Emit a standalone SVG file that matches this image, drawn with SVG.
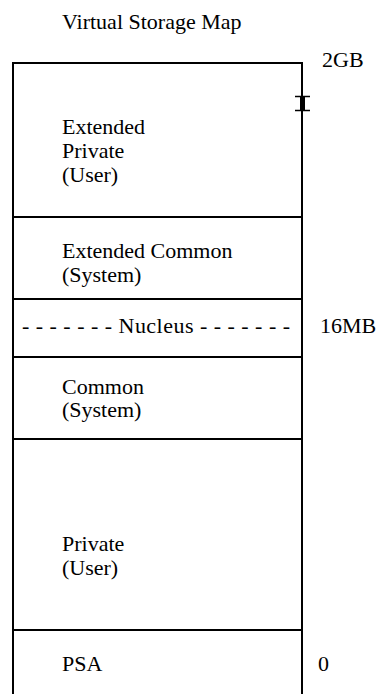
<svg xmlns="http://www.w3.org/2000/svg" width="377" height="694" viewBox="0 0 377 694">
<style>
text{font-size:22px;fill:#000}
.ln{stroke:#000;stroke-width:2;fill:none}
</style>
<rect width="377" height="694" fill="#fff"/>
<g id="title"><text font-family="Liberation Serif" x="62" y="29">Virtual Storage Map</text></g>
<g id="frame">
<path class="ln" d="M13,694 V63 H302 V694"/>
</g>
<g id="connectors">
<line class="ln" x1="13" y1="217" x2="302" y2="217"/>
<line class="ln" x1="13" y1="299" x2="302" y2="299"/>
<line class="ln" x1="13" y1="357" x2="302" y2="357"/>
<line class="ln" x1="13" y1="439" x2="302" y2="439"/>
<line class="ln" x1="13" y1="630" x2="302" y2="630"/>
</g>
<g id="marker">
<rect x="300" y="96" width="5" height="15" fill="#000"/>
<line x1="295" y1="96.5" x2="310" y2="96.5" stroke="#000" stroke-width="1.5"/>
<line x1="295" y1="110.5" x2="310" y2="110.5" stroke="#000" stroke-width="1.5"/>
</g>
<g id="ext-private">
<text font-family="Liberation Serif" x="62" y="134">Extended</text>
<text font-family="Liberation Serif" x="62" y="158">Private</text>
<text font-family="Liberation Serif" x="62" y="182">(User)</text>
</g>
<g id="ext-common">
<text font-family="Liberation Serif" x="62" y="258">Extended Common</text>
<text font-family="Liberation Serif" x="62" y="282">(System)</text>
</g>
<g id="nucleus">
<text font-family="Liberation Serif" x="22" y="333" textLength="268" lengthAdjust="spacing">- - - - - - - Nucleus - - - - - - -</text>
</g>
<g id="common">
<text font-family="Liberation Serif" x="62" y="394">Common</text>
<text font-family="Liberation Serif" x="62" y="417">(System)</text>
</g>
<g id="private">
<text font-family="Liberation Serif" x="62" y="551">Private</text>
<text font-family="Liberation Serif" x="62" y="575">(User)</text>
</g>
<g id="psa">
<text font-family="Liberation Serif" x="62" y="671">PSA</text>
</g>
<g id="labels">
<text font-family="Liberation Serif" x="322" y="67">2GB</text>
<text font-family="Liberation Serif" x="320" y="333">16MB</text>
<text font-family="Liberation Serif" x="318" y="671">0</text>
</g>
</svg>
